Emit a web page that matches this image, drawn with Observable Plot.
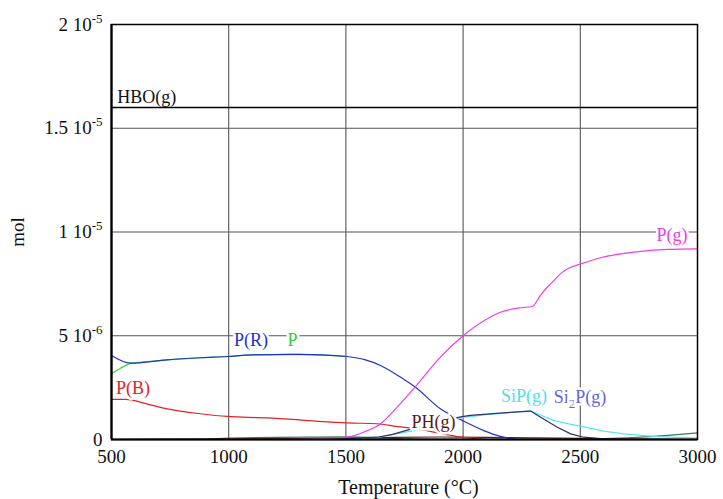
<!DOCTYPE html>
<html>
<head>
<meta charset="utf-8">
<script src="https://cdn.jsdelivr.net/npm/d3@7"></script>
<script src="https://cdn.jsdelivr.net/npm/@observablehq/plot@0.6"></script>
<style>
  html, body { margin: 0; padding: 0; background: #fff; }
  #chart { width: 723px; height: 499px; }
</style>
</head>
<body>
<div id="chart"></div>
<script>
// ---------- data (temperature in °C, amounts in mol) ----------
const xTicks = [500, 1000, 1500, 2000, 2500, 3000];
const yTicks = [0, 5e-6, 1e-5, 1.5e-5, 2e-5];
const yTickLabels = ["0", "5 10-6", "1 10-5", "1.5 10-5", "2 10-5"];

const hboT = [500, 3000];
const hboV = [1.6e-5, 1.6e-5];

const pgT = [500, 1200, 1300, 1400, 1450, 1505, 1575, 1648, 1719, 1797, 1903, 2000, 2117, 2159, 2245, 2295, 2330, 2360, 2387, 2415, 2444, 2505, 2586, 2728, 2870, 3000];
const pgV = [0, 0, 0.02e-6, 0.05e-6, 0.07e-6, 0.11e-6, 0.35e-6, 0.76e-6, 1.56e-6, 2.55e-6, 3.97e-6, 5.0e-6, 5.9e-6, 6.13e-6, 6.35e-6, 6.41e-6, 6.95e-6, 7.35e-6, 7.66e-6, 7.98e-6, 8.22e-6, 8.47e-6, 8.76e-6, 9.03e-6, 9.16e-6, 9.19e-6];

const prT = [500, 581, 737, 880, 994, 1100, 1300, 1434, 1505, 1580, 1648, 1720, 1797, 1903, 1996, 2088, 2160, 2231];
const prV = [4.05e-6, 3.68e-6, 3.84e-6, 3.94e-6, 4.0e-6, 4.08e-6, 4.1e-6, 4.05e-6, 4.0e-6, 3.85e-6, 3.57e-6, 3.1e-6, 2.52e-6, 1.48e-6, 0.92e-6, 0.43e-6, 0.15e-6, 0];

const pT = [500, 540, 581, 737, 880, 994, 1100, 1300, 1434, 1505];
const pV = [3.17e-6, 3.45e-6, 3.68e-6, 3.84e-6, 3.94e-6, 4.0e-6, 4.08e-6, 4.1e-6, 4.05e-6, 4.0e-6];

const pbT = [500, 560, 650, 737, 880, 994, 1085, 1164, 1300, 1434, 1505, 1633, 1720, 1790, 1900, 1990, 2050, 2100];
const pbV = [1.93e-6, 1.93e-6, 1.72e-6, 1.48e-6, 1.24e-6, 1.11e-6, 1.07e-6, 1.04e-6, 0.95e-6, 0.84e-6, 0.80e-6, 0.76e-6, 0.62e-6, 0.53e-6, 0.3e-6, 0.11e-6, 0.04e-6, 0];

const phT = [500, 1000, 1500, 1700, 1900, 2100, 2300, 2500, 2700, 3000];
const phV = [0, 0.02e-6, 0.05e-6, 0.1e-6, 0.12e-6, 0.1e-6, 0.08e-6, 0.05e-6, 0.02e-6, 0];

const sipT = [1400, 1500, 1600, 1648, 1700, 1790, 1850, 1930, 1990, 2100, 2200, 2288, 2330, 2386, 2450, 2520, 2600, 2685, 2828, 2985, 3000];
const sipV = [0, 0.02e-6, 0.08e-6, 0.12e-6, 0.25e-6, 0.43e-6, 0.6e-6, 0.85e-6, 1.05e-6, 1.2e-6, 1.3e-6, 1.38e-6, 1.18e-6, 0.92e-6, 0.75e-6, 0.6e-6, 0.4e-6, 0.27e-6, 0.14e-6, 0.08e-6, 0.08e-6];

const si2pT = [1400, 1500, 1633, 1700, 1776, 1850, 1930, 1996, 2031, 2100, 2215, 2288, 2331, 2402, 2459, 2514, 2600, 2700, 3000];
const si2pV = [0.01e-6, 0.04e-6, 0.11e-6, 0.25e-6, 0.5e-6, 0.72e-6, 0.95e-6, 1.1e-6, 1.16e-6, 1.22e-6, 1.32e-6, 1.37e-6, 1.07e-6, 0.59e-6, 0.27e-6, 0.11e-6, 0.03e-6, 0.01e-6, 0];

const dgT = [500, 900, 1000, 1200, 1500, 1600, 1700, 1800, 2000, 2500, 2600, 2700, 2800, 2900, 3000];
const dgV = [0, 0.02e-6, 0.07e-6, 0.1e-6, 0.13e-6, 0.1e-6, 0.05e-6, 0.02e-6, 0, 0.02e-6, 0.04e-6, 0.08e-6, 0.14e-6, 0.22e-6, 0.32e-6];

// label texts and their anchor points (data coordinates)
const labelText = ["HBO(g)", "P(g)", "P(R)", "P", "P(B)", "PH(g)", "SiP(g)", "Si2P(g)"];
const labelT    = [525, 2891, 1095, 1272, 592, 1874, 2260, 2499];
const labelV    = [16.5e-6, 9.83e-6, 4.8e-6, 4.78e-6, 2.46e-6, 0.82e-6, 2.07e-6, 2.03e-6];
const labelColor = ["#111111", "#ee3ee8", "#2233cc", "#33cc33", "#e02424", "#5a1616", "#4fe0ea", "#6464dc"];
const labelAnchor = ["start", "middle", "middle", "middle", "middle", "middle", "middle", "middle"];
const labelHalo = [0, 5, 5, 5, 5, 5, 5, 5];

// ---------- build ----------
const series = (T, V) => T.map((t, i) => ({T: t, v: V[i]}));

const seriesDefs = [
  {T: dgT, V: dgV, color: "#3a7a55", w: 1.2, curve: "linear"},
  {T: phT, V: phV, color: "#6b1414", w: 1.2, curve: "linear"},
  {T: pbT, V: pbV, color: "#e02424", w: 1.2, curve: "monotone-x"},
  {T: pT, V: pV, color: "#33dd33", w: 1.2, curve: "linear"},
  {T: prT, V: prV, color: "#2233cc", w: 1.2, curve: "monotone-x"},
  {T: sipT, V: sipV, color: "#55e6ee", w: 1.2, curve: "linear"},
  {T: si2pT, V: si2pV, color: "#30306e", w: 1.2, curve: "linear"},
  {T: pgT, V: pgV, color: "#ee3ee8", w: 1.2, curve: "monotone-x"},
  {T: hboT, V: hboV, color: "#000000", w: 1.5, curve: "linear"}
];

const FONT = "Liberation Serif, Times New Roman, serif";

const marks = [
  Plot.gridX([1000, 1500, 2000, 2500], {stroke: "#555", strokeOpacity: 1, strokeWidth: 1.1}),
  Plot.gridY([5e-6, 1e-5, 1.5e-5], {stroke: "#555", strokeOpacity: 1, strokeWidth: 1.1}),
  ...seriesDefs.map(s => Plot.line(series(s.T, s.V), {x: "T", y: "v", stroke: s.color, strokeWidth: s.w, curve: s.curve})),
  ...labelText.map((t, i) => Plot.text([{T: labelT[i], v: labelV[i], t}], {
    x: "T", y: "v", text: "t", fill: labelColor[i], textAnchor: labelAnchor[i],
    fontSize: 18, fontFamily: FONT, stroke: labelHalo[i] ? "white" : "none", strokeWidth: labelHalo[i]
  })),
  Plot.frame({stroke: "#000", strokeWidth: 1.5}),
  Plot.ruleX([500], {stroke: "#000", strokeWidth: 2.2}),
  Plot.ruleY([0], {stroke: "#000", strokeWidth: 2.2}),
  Plot.axisX({ticks: xTicks, tickFormat: d => String(d), tickSize: 0, tickPadding: 10, label: null, fontSize: 19}),
  Plot.axisY({ticks: yTicks, tickFormat: (d) => yTickLabels[yTicks.indexOf(d)], tickSize: 0, tickPadding: 9, label: null, fontSize: 19}),
  Plot.text(["Temperature (°C)"], {frameAnchor: "bottom", dy: 54, dx: 4, fontSize: 20, fontFamily: FONT, fill: "#111"}),
  Plot.text(["mol"], {frameAnchor: "left", textAnchor: "middle", lineAnchor: "middle", dx: -94, rotate: -90, fontSize: 19, fontFamily: FONT, fill: "#111"})
];

const chart = Plot.plot({
  width: 723,
  height: 499,
  marginLeft: 111,
  marginRight: 26,
  marginTop: 24,
  marginBottom: 60,
  style: {fontFamily: FONT, fontSize: "19px", color: "#111", background: "white"},
  x: {domain: [500, 3000]},
  y: {domain: [0, 2e-5]},
  marks
});

document.getElementById("chart").appendChild(chart);

// superscript exponents on y tick labels
chart.querySelectorAll('g[aria-label="y-axis tick label"] text').forEach(el => {
  const s = el.textContent;
  const m = s.match(/^(.*10)(-\d+)$/);
  if (!m) return;
  el.textContent = "";
  const ns = "http://www.w3.org/2000/svg";
  const a = document.createElementNS(ns, "tspan");
  a.textContent = m[1];
  const b = document.createElementNS(ns, "tspan");
  b.textContent = m[2];
  b.setAttribute("font-size", "13");
  b.setAttribute("dy", "-8");
  el.appendChild(a);
  el.appendChild(b);
});

// subscript in Si2P(g)
chart.querySelectorAll("text").forEach(el => {
  if (el.textContent !== "Si2P(g)") return;
  const ns = "http://www.w3.org/2000/svg";
  el.textContent = "";
  const parts = [["Si", null, null], ["2", "5", "13"], ["P(g)", "-5", null]];
  parts.forEach(([t, dy, fs]) => {
    const ts = document.createElementNS(ns, "tspan");
    ts.textContent = t;
    if (dy) ts.setAttribute("dy", dy);
    if (fs) ts.setAttribute("font-size", fs);
    el.appendChild(ts);
  });
});
</script>
</body>
</html>
